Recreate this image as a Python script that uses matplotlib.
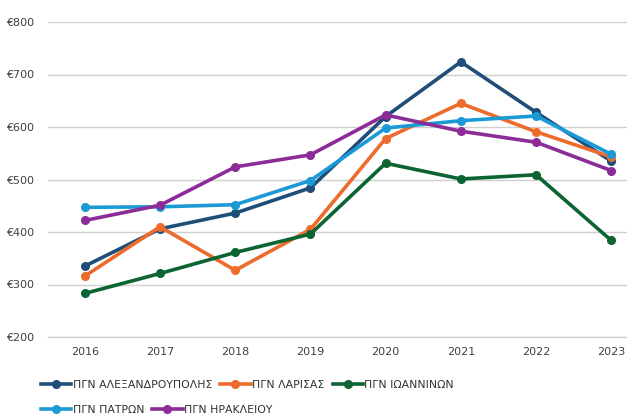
import matplotlib.pyplot as plt
from matplotlib.lines import Line2D

plt.rcParams['font.family'] = ['Liberation Sans Narrow', 'DejaVu Sans']

# --- Data ---
years = [2016, 2017, 2018, 2019, 2020, 2021, 2022, 2023]
alexandroupolis = [335, 406, 436, 484, 620, 724, 628, 535]
larisas = [316, 410, 327, 405, 578, 645, 591, 543]
ioanninon = [283, 321, 361, 396, 531, 501, 509, 384]
patron = [447, 448, 452, 498, 598, 612, 621, 548]
irakleiou = [422, 451, 524, 547, 623, 592, 571, 517]

series = [
    ("ΠΓΝ ΑΛΕΞΑΝΔΡΟΥΠΟΛΗΣ", alexandroupolis, "#1f4e79"),
    ("ΠΓΝ ΛΑΡΙΣΑΣ", larisas, "#ed6b2b"),
    ("ΠΓΝ ΙΩΑΝΝΙΝΩΝ", ioanninon, "#0b6431"),
    ("ΠΓΝ ΠΑΤΡΩΝ", patron, "#1b9ad6"),
    ("ΠΓΝ ΗΡΑΚΛΕΙΟΥ", irakleiou, "#8b2c97"),
]
yticks = [200, 300, 400, 500, 600, 700, 800]

fig = plt.figure(figsize=(6.27, 4.18), dpi=100)
ax = fig.add_axes([48 / 627, 81 / 418, 1 - 48 / 627, 315 / 418])

handles = []
for name, vals, col in series:
    ax.plot(years, vals, color=col, lw=2.6, marker='o', ms=5.5, zorder=3)
    handles.append(Line2D([], [], color=col, lw=2.6, marker='o', ms=5.5, label=name))

ax.set_xlim(2015.51, 2023.21)
ax.set_ylim(200, 800)
ax.set_xticks(years)
ax.set_yticks(yticks)
ax.set_yticklabels([f"€{v}" for v in yticks])
ax.grid(axis='y', color='#d0d0d0', lw=1)
ax.axhline(200, color='#d0d0d0', lw=1, clip_on=False, zorder=0)
ax.set_axisbelow(True)
for s in ax.spines.values():
    s.set_visible(False)
ax.tick_params(length=0, labelsize=8, colors='#404040', pad=7)
ax.tick_params(axis='y', pad=10)

leg_kw = dict(frameon=False, fontsize=7.8, handlelength=2.8, handletextpad=0.15,
              columnspacing=0.75, labelcolor='#303030')
leg1 = fig.legend(handles=handles[:3], ncol=3, loc='center left',
                  bbox_to_anchor=(31 / 627, 1 - 385 / 418), **leg_kw)
leg2 = fig.legend(handles=handles[3:], ncol=2, loc='center left',
                  bbox_to_anchor=(31 / 627, 1 - 410 / 418), **leg_kw)

fig.savefig("out.png", dpi=100)
